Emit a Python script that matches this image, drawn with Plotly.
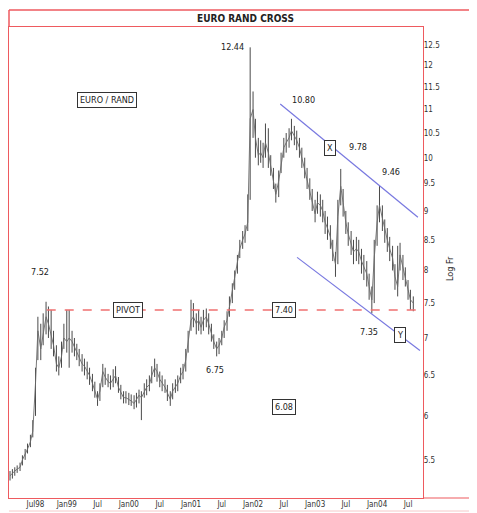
import plotly.graph_objects as go
import pandas as pd

# ---- data (semi-monthly readings from the chart) ----
start = "1998-02-01"
closes = [
    5.33, 5.36, 5.38, 5.40, 5.42, 5.50, 5.56, 5.62, 5.70, 5.82,
    6.40, 7.10, 6.85, 7.05, 7.30, 7.20, 7.05, 6.90, 6.65, 6.60, 6.75, 7.00,
    6.95, 7.00, 6.95, 6.88, 6.80, 6.72, 6.65, 6.62, 6.55, 6.50, 6.40, 6.30,
    6.20, 6.30, 6.55, 6.48, 6.42, 6.40, 6.45, 6.50, 6.35, 6.28, 6.22, 6.22,
    6.20, 6.18, 6.15, 6.20, 6.25, 6.22, 6.30, 6.35, 6.38, 6.50, 6.60, 6.55,
    6.45, 6.40, 6.35, 6.28, 6.20, 6.30, 6.35, 6.40, 6.50, 6.55, 6.70, 6.95,
    7.25, 7.30, 7.20, 7.25, 7.15, 7.25, 7.30, 7.20, 7.05, 6.95, 6.85, 6.90,
    7.00, 7.15, 7.25, 7.45, 7.65, 7.85, 8.10, 8.35, 8.50, 8.60, 8.80, 10.80,
    11.00, 10.40, 10.05, 10.10, 10.00, 10.30, 10.10, 9.85, 9.60, 9.30, 9.55, 9.90,
    10.20, 10.30, 10.40, 10.55, 10.45, 10.35, 10.20, 10.00, 9.80, 9.60, 9.40, 9.20,
    8.95, 9.15, 9.10, 9.00, 8.80, 8.70, 8.55, 8.30, 8.10, 8.90, 9.45, 9.15,
    8.80, 8.60, 8.45, 8.30, 8.35, 8.30, 8.15, 8.05, 7.95, 7.75, 7.55, 8.20,
    8.80, 9.10, 8.85, 8.65, 8.50, 8.35, 8.20, 7.90, 7.75, 8.25, 8.05, 7.90,
    7.70, 7.55, 7.50,
]
highs = [
    5.38, 5.40, 5.42, 5.44, 5.47, 5.55, 5.62, 5.68, 5.78, 5.95,
    6.60, 7.30, 7.20, 7.35, 7.52, 7.45, 7.40, 7.10, 6.90, 6.75, 6.95, 7.20,
    7.40, 7.40, 7.10, 7.00, 6.92, 6.85, 6.78, 6.72, 6.68, 6.60, 6.52, 6.42,
    6.30, 6.40, 6.65, 6.60, 6.52, 6.50, 6.58, 6.62, 6.48, 6.38, 6.30, 6.30,
    6.28, 6.26, 6.25, 6.28, 6.32, 6.30, 6.40, 6.45, 6.50, 6.62, 6.72, 6.65,
    6.55, 6.50, 6.45, 6.38, 6.30, 6.40, 6.45, 6.50, 6.60, 6.65, 6.85, 7.10,
    7.55, 7.50, 7.35, 7.40, 7.30, 7.40, 7.42, 7.35, 7.20, 7.05, 6.95, 7.00,
    7.10, 7.25, 7.38, 7.60, 7.80, 8.00, 8.25, 8.50, 8.65, 8.75, 9.30, 12.44,
    11.40, 10.80, 10.40, 10.35, 10.30, 10.70, 10.60, 10.05, 9.80, 9.50, 9.75, 10.10,
    10.40, 10.50, 10.60, 10.80, 10.65, 10.55, 10.40, 10.20, 10.00, 9.80, 9.60, 9.40,
    9.20, 9.35, 9.30, 9.20, 9.00, 8.90, 8.75, 8.50, 8.30, 9.20, 9.78, 9.40,
    9.00, 8.80, 8.65, 8.50, 8.55, 8.50, 8.35, 8.25, 8.15, 7.95, 7.75, 8.50,
    9.10, 9.46, 9.10, 8.85, 8.70, 8.55, 8.40, 8.10, 8.40, 8.45, 8.25, 8.05,
    7.85, 7.70, 7.60,
]
lows = [
    5.28, 5.30, 5.33, 5.36, 5.38, 5.44, 5.50, 5.57, 5.64, 5.75,
    6.00, 6.70, 6.70, 6.90, 7.05, 7.00, 6.85, 6.75, 6.55, 6.50, 6.60, 6.85,
    6.80, 6.60, 6.80, 6.75, 6.70, 6.62, 6.55, 6.50, 6.45, 6.38, 6.30, 6.22,
    6.12, 6.18, 6.35, 6.38, 6.35, 6.32, 6.35, 6.40, 6.28, 6.20, 6.15, 6.15,
    6.13, 6.12, 6.08, 6.10, 6.15, 5.95, 6.22, 6.25, 6.30, 6.40, 6.48, 6.42,
    6.35, 6.30, 6.28, 6.18, 6.12, 6.20, 6.28, 6.30, 6.40, 6.45, 6.55, 6.80,
    7.10, 7.15, 7.05, 7.10, 7.05, 7.10, 7.15, 7.05, 6.95, 6.85, 6.75, 6.78,
    6.90, 7.00, 7.10, 7.30, 7.50, 7.70, 7.95, 8.20, 8.35, 8.45, 8.65, 9.20,
    10.40, 10.00, 9.85, 9.90, 9.80, 10.00, 9.80, 9.65, 9.40, 9.15, 9.25, 9.70,
    10.00, 10.10, 10.20, 10.35, 10.25, 10.15, 10.00, 9.80, 9.60, 9.40, 9.20, 9.00,
    8.80, 8.95, 8.90, 8.80, 8.60, 8.50, 8.35, 8.15, 7.90, 8.10, 9.10, 8.90,
    8.60, 8.40, 8.25, 8.10, 8.15, 8.10, 7.95, 7.85, 7.75, 7.55, 7.35, 7.50,
    8.40, 8.80, 8.65, 8.45, 8.30, 8.15, 8.00, 7.70, 7.60, 8.00, 7.85, 7.75,
    7.55, 7.40, 7.38,
]

# dates: 1st and 15th of each month
dates = []
for m in pd.date_range(start, periods=len(closes) // 2 + 1, freq="MS"):
    dates.append(m)
    dates.append(m + pd.Timedelta(days=14))
dates = dates[:len(closes)]

tick_dates = ["1998-07-01", "1999-01-01", "1999-07-01", "2000-01-01", "2000-07-01",
              "2001-01-01", "2001-07-01", "2002-01-01", "2002-07-01", "2003-01-01",
              "2003-07-01", "2004-01-01", "2004-07-01"]
tick_labels = ["Jul98", "Jan99", "Jul", "Jan00", "Jul", "Jan01", "Jul", "Jan02",
               "Jul", "Jan03", "Jul", "Jan04", "Jul"]
y_ticks = [5.5, 6, 6.5, 7, 7.5, 8, 8.5, 9, 9.5, 10, 10.5, 11, 11.5, 12, 12.5]
y_tick_labels = ["5.5", "6", "6.5", "7", "7.5", "8", "8.5", "9", "9.5", "10",
                 "10.5", "11", "11.5", "12", "12.5"]

pivot_value = 7.40
pivot_dates = ["1998-09-05", "2004-09-27"]
upper_channel_dates = ["2002-06-10", "2004-08-28"]
upper_channel_values = [11.12, 8.89]
lower_channel_dates = ["2002-09-17", "2004-09-09"]
lower_channel_values = [8.21, 6.83]

FONT = "DejaVu Sans Condensed, Liberation Sans Narrow, Arial Narrow, Liberation Sans, Arial, sans-serif"
RED = "#ee5a5f"

fig = go.Figure()
fig.add_trace(go.Scatter(
    x=dates, y=closes, mode="lines",
    line=dict(color="#6a6a6a", width=0.9),
    error_y=dict(type="data", symmetric=False,
                 array=[h - c for h, c in zip(highs, closes)],
                 arrayminus=[c - l for c, l in zip(closes, lows)],
                 color="#4a4a4a", thickness=1, width=0),
    showlegend=False, hoverinfo="skip"))

fig.add_trace(go.Scatter(x=pivot_dates, y=[pivot_value, pivot_value], mode="lines",
                         line=dict(color="#f07070", width=1.5, dash="dash"),
                         showlegend=False, hoverinfo="skip"))
fig.add_trace(go.Scatter(x=upper_channel_dates, y=upper_channel_values, mode="lines",
                         line=dict(color="#7878e0", width=1.2),
                         showlegend=False, hoverinfo="skip"))
fig.add_trace(go.Scatter(x=lower_channel_dates, y=lower_channel_values, mode="lines",
                         line=dict(color="#7878e0", width=1.2),
                         showlegend=False, hoverinfo="skip"))

# page has an 8px body margin, so figure coords = screen coords - 8
OFF = 8
W, H = 477 - OFF, 513 - OFF
L, R, T, B = 9 - OFF, 423 - OFF, 27 - OFF, 498 - OFF


def px(xs):
    return (xs - OFF - L) / (R - L)


def py(ys):
    return (B - (ys - OFF)) / (B - T)


shapes = [
    dict(type="line", xref="paper", yref="paper", x0=px(9), x1=px(477), y0=py(10), y1=py(10),
         line=dict(color=RED, width=1.5)),
    dict(type="line", xref="paper", yref="paper", x0=px(9), x1=px(9), y0=py(10), y1=py(27),
         line=dict(color=RED, width=1.5)),
    dict(type="line", xref="paper", yref="paper", x0=px(423), x1=px(477), y0=py(498), y1=py(498),
         line=dict(color=RED, width=1.2)),
    dict(type="line", xref="paper", yref="paper", x0=px(9), x1=px(477), y0=py(511), y1=py(511),
         line=dict(color="#f6c8c8", width=1)),
]

ann = []


def label(x, y, text, box=False, size=9):
    d = dict(xref="paper", yref="paper", x=px(x), y=py(y), text=text, showarrow=False,
             font=dict(family=FONT, size=size, color="#222"), xanchor="center", yanchor="middle")
    if box:
        d.update(bordercolor="#333", borderwidth=1, borderpad=2, bgcolor="white")
    ann.append(d)


label(245, 18, "<b>EURO RAND CROSS</b>", size=10)
label(107, 100, "EURO / RAND", box=True)
label(40, 272, "7.52")
label(128, 310, "PIVOT", box=True)
label(215, 370, "6.75")
label(233, 47, "12.44")
label(303, 100, "10.80")
label(330, 148, "X", box=True)
label(358, 147, "9.78")
label(391, 172, "9.46")
label(284, 310, "7.40", box=True)
label(369, 332, "7.35")
label(400, 335, "Y", box=True)
label(284, 407, "6.08", box=True)
ann.append(dict(xref="paper", yref="paper", x=px(457), y=py(268), text="Log Fr",
                showarrow=False, textangle=-90,
                font=dict(family=FONT, size=9, color="#222")))

fig.update_layout(
    width=W, height=H,
    margin=dict(l=L, r=W - R, t=T, b=H - B),
    paper_bgcolor="white", plot_bgcolor="white",
    shapes=shapes, annotations=ann,
    xaxis=dict(type="date", range=["1998-01-26", "2004-09-27"],
               tickvals=tick_dates, ticktext=tick_labels, ticks="",
               showgrid=False, zeroline=False,
               showline=True, linecolor=RED, linewidth=1.2, mirror=True,
               ticklabelstandoff=-2,
               tickfont=dict(family=FONT, size=8, color="#333")),
    yaxis=dict(type="log", range=[0.7076, 1.1123], side="right",
               tickvals=y_ticks, ticktext=y_tick_labels, ticks="",
               showgrid=False, zeroline=False,
               showline=True, linecolor=RED, linewidth=1.2, mirror=True,
               ticklabelstandoff=-2,
               tickfont=dict(family=FONT, size=8, color="#333")),
)

fig.write_html("out.html")
